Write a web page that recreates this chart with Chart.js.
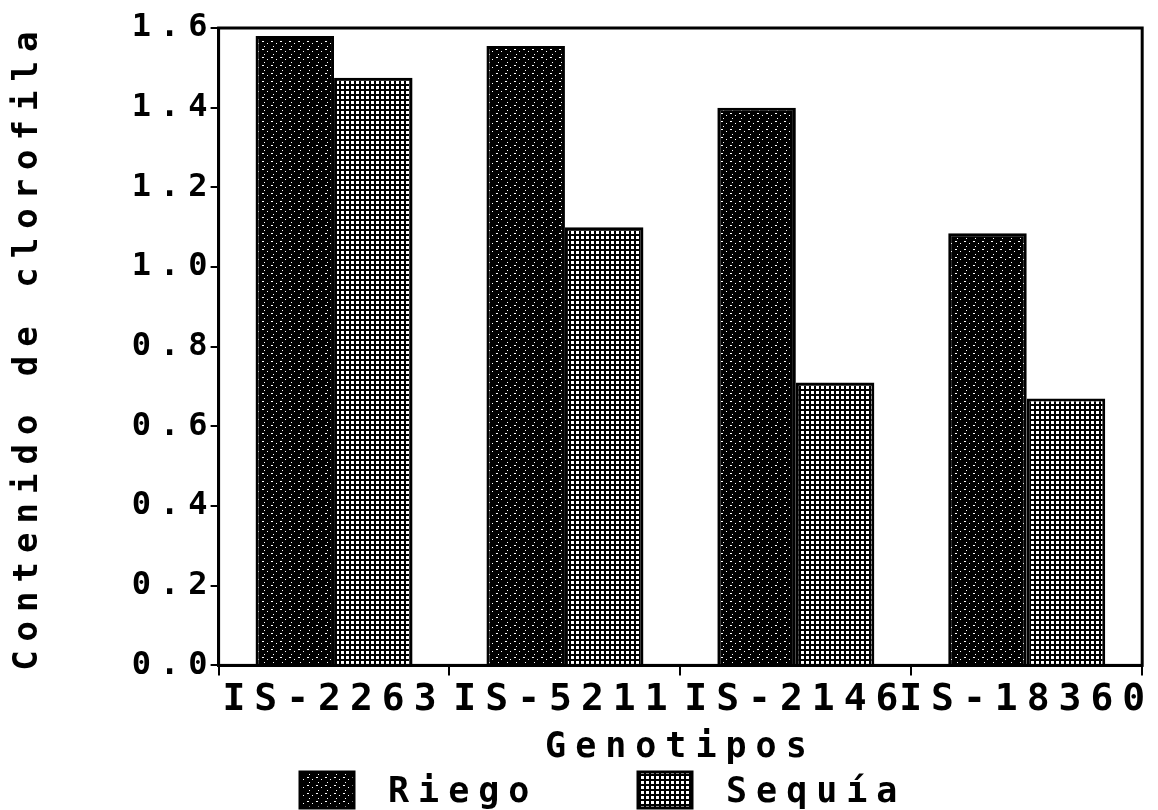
<!DOCTYPE html>
<html>
<head>
<meta charset="utf-8">
<script src="https://cdn.jsdelivr.net/npm/chart.js@4"></script>
<style>
  body { margin: 0; background: #fff; }
  canvas { display: block; }
</style>
</head>
<body>
<canvas id="myChart" width="1158" height="810"></canvas>
<script>
const genotipos = ["IS-2263", "IS-5211", "IS-2146", "IS-18360"];
const riego = [1.58, 1.555, 1.40, 1.085];
const sequia = [1.475, 1.10, 0.71, 0.67];
const yTicks = [0, 0.2, 0.4, 0.6, 0.8, 1.0, 1.2, 1.4, 1.6];

const FONT = "'DejaVu Sans Mono', 'Liberation Mono', monospace";

// stipple patterns like the old printout
function darkPattern() {
    let c = document.createElement("canvas");
    c.width = 9; c.height = 8;
    let g = c.getContext("2d");
    g.fillStyle = "#000";
    g.fillRect(0, 0, 9, 8);
    g.fillStyle = "#fff";
    g.fillRect(1, 1, 2, 1);
    g.fillRect(6, 3, 1, 1);
    g.fillRect(3, 6, 1, 1);
    return g.createPattern(c, "repeat");
}

function lightPattern() {
    let c = document.createElement("canvas");
    c.width = 5; c.height = 5;
    let g = c.getContext("2d");
    g.fillStyle = "#000";
    g.fillRect(0, 0, 5, 5);
    g.fillStyle = "#fff";
    g.fillRect(1, 1, 3, 3);
    return g.createPattern(c, "repeat");
}

const patRiego = darkPattern();
const patSequia = lightPattern();

const spacing = {
    id: "spacing",
    beforeUpdate(chart) { chart.ctx.letterSpacing = "9px"; },
    beforeDraw(chart) {
        let ctx = chart.ctx;
        ctx.letterSpacing = "9px";
        ctx.save();
        ctx.fillStyle = "#fff";
        ctx.fillRect(0, 0, chart.width, chart.height);
        ctx.restore();
    }
};

const frame = {
    id: "frame",
    afterDatasetsDraw(chart) {
        let a = chart.chartArea;
        let ctx = chart.ctx;
        ctx.save();
        ctx.strokeStyle = "#000";
        ctx.lineWidth = 3;
        ctx.strokeRect(a.left, a.top, a.right - a.left, a.bottom - a.top);
        ctx.restore();
    }
};

const bottomLegend = {
    id: "bottomLegend",
    afterDraw(chart) {
        let ctx = chart.ctx;
        let items = chart.data.datasets;
        let boxX = [300, 638];
        ctx.save();
        ctx.font = "bold 35px " + FONT;
        ctx.textBaseline = "alphabetic";
        for (let i = 0; i < items.length; i++) {
            let x = boxX[i];
            ctx.fillStyle = items[i].backgroundColor;
            ctx.fillRect(x, 772, 54, 36);
            ctx.strokeStyle = "#000";
            ctx.lineWidth = 3;
            ctx.strokeRect(x, 772, 54, 36);
            ctx.fillStyle = "#000";
            ctx.fillText(items[i].label, x + 88, 802);
        }
        ctx.restore();
    }
};

let myChart = new Chart("myChart", {
    type: "bar",
    data: {
        labels: genotipos,
        datasets: [{
            label: "Riego",
            data: riego,
            backgroundColor: patRiego,
            borderColor: "#000",
            borderWidth: 3
        }, {
            label: "Sequía",
            data: sequia,
            backgroundColor: patSequia,
            borderColor: "#000",
            borderWidth: 3
        }]
    },
    options: {
        responsive: false,
        animation: false,
        layout: { padding: { top: 28, right: 14, left: 8, bottom: 41 } },
        categoryPercentage: 0.68,
        barPercentage: 1.0,
        plugins: {
            legend: { display: false },
            tooltip: { enabled: false }
        },
        scales: {
            x: {
                grid: { drawOnChartArea: false, color: "#000", lineWidth: 2, tickLength: 10 },
                border: { color: "#000", width: 3 },
                ticks: {
                    color: "#000",
                    font: { family: FONT, size: 38, weight: "bold" },
                    maxRotation: 0,
                    autoSkip: false,
                    padding: 2
                },
                title: {
                    display: true,
                    text: "Genotipos",
                    color: "#000",
                    font: { family: FONT, size: 35, weight: "bold" },
                    padding: { top: 2, bottom: 0 }
                }
            },
            y: {
                min: 0,
                max: 1.6,
                afterBuildTicks(axis) { axis.ticks = yTicks.map(v => ({ value: v })); },
                grid: { drawOnChartArea: false, color: "#000", lineWidth: 2, tickLength: 8 },
                border: { color: "#000", width: 3 },
                ticks: {
                    color: "#000",
                    font: { family: FONT, size: 32, weight: "bold" },
                    padding: -6,
                    callback: v => v.toFixed(1)
                },
                title: {
                    display: true,
                    text: "Contenido de clorofila",
                    color: "#000",
                    font: { family: FONT, size: 34, weight: "bold" },
                    padding: { top: 0, bottom: 89 }
                }
            }
        }
    },
    plugins: [spacing, frame, bottomLegend]
});
</script>
</body>
</html>
